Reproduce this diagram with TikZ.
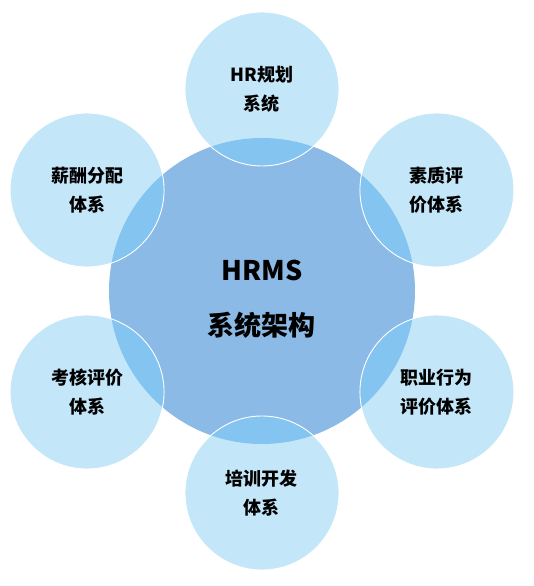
\documentclass[tikz,border=0pt]{standalone}
\usepackage{fontspec}
\setmainfont{Noto Sans CJK SC}
\usepackage{tikz}
\usetikzlibrary{calc}
\definecolor{hubblue}{HTML}{8CBAE6}
\definecolor{petalblue}{HTML}{C4E6F9}
\definecolor{lapblue}{HTML}{84C4F0}
\tikzset{
    hub/.style={circle,fill=hubblue,minimum size=306pt,inner sep=0pt,align=center,
      font=\fontsize{27}{55}\selectfont\bfseries},
    petal/.style={circle,fill=petalblue,minimum size=154pt,inner sep=0pt,align=center,
      font=\fontsize{18}{29}\selectfont\bfseries},
  }

\begin{document}
\begin{tikzpicture}[x=1pt,y=1pt]
				  \useasboundingbox (-262,-295) rectangle (272,291);
				  
				  %centre
				  \node[hub] (hrms) at (0,0) {};
				  
				  %petales
				  \node[petal] (plan) at (90:202) {};
				  \node[petal] (qual) at (30:202) {};
				  \node[petal] (beha) at (-30:202) {};
				  \node[petal] (train) at (-90:202) {};
				  \node[petal] (eval) at (-150:202) {};
				  \node[petal] (pay) at (150:202) {};
				  
				  %intersections
				  \begin{scope}
				  \clip (hrms) circle (153);
				  \foreach \p in {plan,qual,beha,train,eval,pay}
				    \fill[lapblue] (\p) circle (77);
				  \end{scope}
				  \foreach \p in {plan,qual,beha,train,eval,pay}
				    \draw[white,line width=0.9pt] (\p) circle (77);
				  
				  %textes
				  \node[font=\fontsize{27}{55}\selectfont\bfseries,align=center] at ($(hrms)+(0,-8)$) {HRMS\\系统架构};
				  \node[petal,fill=none] at (plan) {HR规划\\系统};
				  \node[petal,fill=none] at (qual) {素质评\\价体系};
				  \node[petal,fill=none] at (beha) {职业行为\\评价体系};
				  \node[petal,fill=none] at (train) {培训开发\\体系};
				  \node[petal,fill=none] at (eval) {考核评价\\体系};
				  \node[petal,fill=none] at (pay) {薪酬分配\\体系};
\end{tikzpicture}
\end{document}
